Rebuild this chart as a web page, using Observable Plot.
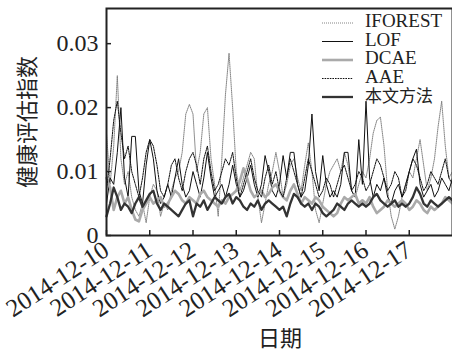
<!DOCTYPE html>
<html><head><meta charset="utf-8">
<script src="https://cdn.jsdelivr.net/npm/d3@7"></script>
<script src="https://cdn.jsdelivr.net/npm/@observablehq/plot@0.6"></script>
<style>
body{margin:0;background:#fff}
#chart{position:relative;width:452px;height:356px}
</style>
</head><body><div id="chart"></div>
<script>
const seriesNames = ["IFOREST", "LOF", "DCAE", "AAE", "本文方法"];
const startDate = "2014-12-10T00:00:00Z";
const stepHours = 2;
const xTickLabels = ["2014-12-10","2014-12-11","2014-12-12","2014-12-13","2014-12-14","2014-12-15","2014-12-16","2014-12-17"];
const yTicks = [0, 0.01, 0.02, 0.03];
const xLabel = "日期";
const yLabel = "健康评估指数";

const iforest = [0.016,0.008,0.014,0.025,0.012,0.008,0.010,0.006,0.004,0.003,0.005,0.002,0.006,0.008,0.007,0.003,0.005,0.004,0.007,0.009,0.010,0.013,0.019,0.0205,0.019,0.010,0.013,0.019,0.020,0.012,0.008,0.003,0.012,0.022,0.0285,0.020,0.010,0.007,0.009,0.011,0.013,0.012,0.006,0.002,0.005,0.008,0.010,0.013,0.010,0.006,0.008,0.011,0.012,0.009,0.007,0.011,0.0145,0.010,0.004,0.002,0.005,0.008,0.010,0.011,0.012,0.010,0.013,0.011,0.007,0.006,0.008,0.010,0.009,0.012,0.016,0.018,0.0185,0.014,0.007,0.003,0.001,0.003,0.006,0.008,0.010,0.009,0.012,0.015,0.011,0.007,0.009,0.012,0.017,0.021,0.014,0.009,0.010];
const lof = [0.005,0.009,0.008,0.013,0.020,0.009,0.006,0.0155,0.0155,0.007,0.005,0.011,0.015,0.012,0.007,0.005,0.006,0.008,0.006,0.009,0.012,0.008,0.006,0.007,0.010,0.008,0.006,0.009,0.013,0.009,0.006,0.007,0.008,0.006,0.008,0.011,0.008,0.006,0.007,0.009,0.011,0.008,0.006,0.008,0.0125,0.010,0.007,0.006,0.008,0.0125,0.009,0.013,0.013,0.008,0.006,0.007,0.011,0.019,0.010,0.007,0.0125,0.008,0.006,0.007,0.006,0.008,0.013,0.013,0.007,0.006,0.015,0.008,0.021,0.009,0.006,0.008,0.007,0.009,0.006,0.005,0.007,0.008,0.006,0.008,0.010,0.012,0.0135,0.008,0.006,0.007,0.008,0.006,0.007,0.009,0.008,0.007,0.009];
const dcae = [0.009,0.0075,0.004,0.006,0.007,0.005,0.006,0.004,0.0025,0.0022,0.004,0.005,0.006,0.005,0.0055,0.006,0.0045,0.005,0.006,0.007,0.0065,0.0055,0.005,0.006,0.0055,0.005,0.0065,0.007,0.006,0.0055,0.005,0.0045,0.0055,0.005,0.006,0.0065,0.007,0.0085,0.0105,0.009,0.007,0.006,0.0065,0.007,0.006,0.0065,0.0075,0.008,0.007,0.006,0.0055,0.007,0.008,0.0065,0.005,0.006,0.0055,0.005,0.006,0.0055,0.0045,0.004,0.0035,0.003,0.0035,0.005,0.006,0.0055,0.006,0.0065,0.005,0.0055,0.005,0.006,0.0045,0.0035,0.004,0.0045,0.0055,0.005,0.0045,0.005,0.0055,0.005,0.004,0.0045,0.0055,0.005,0.004,0.0035,0.0045,0.004,0.0045,0.005,0.006,0.0055,0.005];
const aae = [0.007,0.012,0.018,0.021,0.016,0.012,0.014,0.010,0.008,0.006,0.009,0.013,0.015,0.014,0.011,0.007,0.006,0.008,0.011,0.012,0.009,0.007,0.010,0.012,0.013,0.011,0.008,0.012,0.014,0.010,0.007,0.008,0.010,0.012,0.011,0.013,0.009,0.006,0.008,0.010,0.012,0.009,0.007,0.006,0.009,0.011,0.008,0.010,0.007,0.006,0.009,0.012,0.010,0.008,0.006,0.009,0.012,0.010,0.008,0.006,0.007,0.009,0.008,0.006,0.008,0.010,0.011,0.009,0.007,0.008,0.010,0.009,0.007,0.008,0.010,0.012,0.011,0.009,0.007,0.008,0.010,0.009,0.006,0.007,0.010,0.012,0.011,0.009,0.007,0.008,0.010,0.009,0.008,0.010,0.012,0.009,0.008];
const ours = [0.003,0.005,0.0075,0.006,0.004,0.005,0.0045,0.0035,0.005,0.006,0.0045,0.0055,0.0065,0.007,0.005,0.004,0.005,0.0045,0.004,0.0035,0.003,0.004,0.005,0.0055,0.003,0.005,0.0045,0.0055,0.004,0.005,0.006,0.0055,0.005,0.006,0.0065,0.005,0.006,0.0055,0.0045,0.004,0.005,0.0045,0.0055,0.004,0.005,0.0055,0.005,0.0045,0.004,0.0045,0.003,0.005,0.0065,0.006,0.005,0.0045,0.005,0.004,0.005,0.0045,0.0035,0.003,0.0035,0.004,0.005,0.0045,0.004,0.005,0.0055,0.005,0.0045,0.005,0.0045,0.005,0.006,0.0065,0.0055,0.005,0.0045,0.005,0.0055,0.0045,0.005,0.0045,0.005,0.006,0.0075,0.0065,0.005,0.0045,0.0055,0.005,0.0045,0.005,0.0055,0.006,0.0055];

const seriesValues = [iforest, lof, dcae, aae, ours];
const styles = [
  {stroke: "#777", strokeWidth: 0.9, strokeDasharray: "1,1"},
  {stroke: "#111", strokeWidth: 1},
  {stroke: "#aaa", strokeWidth: 2.6},
  {stroke: "#111", strokeWidth: 1, strokeDasharray: "1.6,1"},
  {stroke: "#333", strokeWidth: 2.3}
];

const t0 = new Date(startDate);
const toDate = i => new Date(t0.getTime() + i * stepHours * 3600e3);
const xTicks = xTickLabels.map(s => new Date(s + "T00:00:00Z"));
const xEnd = new Date("2014-12-18T00:00:00Z");

const marks = seriesValues.map((vals, k) =>
  Plot.line(vals.map((v, i) => ({t: toDate(i), v})), {x: "t", y: "v", ...styles[k], strokeLinejoin: "round"})
);

const serif = "Liberation Serif";
const chart = Plot.plot({
  width: 452, height: 356,
  marginLeft: 106, marginRight: 0, marginTop: 8, marginBottom: 121,
  style: {fontFamily: serif, fontSize: "24px", color: "#222", background: "#fff"},
  x: {type: "utc", domain: [t0, xEnd]},
  y: {domain: [0, 0.0355]},
  marks: [
    ...marks,
    Plot.axisY(yTicks, {tickSize: -5, tickPadding: 13, strokeWidth: 1.5, tickFormat: d => d === 0 ? "0" : d.toFixed(2), label: null, fontSize: 24}),
    Plot.axisX(xTicks, {tickSize: -5, tickPadding: 17, tickRotate: -33, strokeWidth: 1.5, tickFormat: d3.utcFormat("%Y-%m-%d"), label: null, fontSize: 25}),
    Plot.frame({stroke: "#222", strokeWidth: 2})
  ]
});

const svg = d3.select(chart);
svg.append("text").attr("transform", "translate(29,122) rotate(-90)")
  .attr("text-anchor", "middle").attr("dominant-baseline", "middle")
  .style("font-family", "'Noto Sans CJK SC',sans-serif").style("font-size", "22px").attr("fill", "#222").text(yLabel);
svg.append("text").attr("x", 280).attr("y", 340)
  .attr("text-anchor", "middle").attr("dominant-baseline", "middle")
  .style("font-family", "'Noto Sans CJK SC',sans-serif").style("font-size", "22px").attr("fill", "#222").text(xLabel);

const leg = svg.append("g");
seriesNames.forEach((name, k) => {
  const y = 23 + k * 18.5;
  const s = styles[k];
  leg.append("line").attr("x1", 322).attr("x2", 353).attr("y1", y).attr("y2", y)
    .attr("stroke", s.stroke).attr("stroke-width", s.strokeWidth).attr("stroke-dasharray", s.strokeDasharray || null);
  leg.append("text").attr("x", 365).attr("y", y).attr("dominant-baseline", "middle").attr("text-anchor", "start")
    .style("font-family", k === 4 ? "'Noto Sans CJK SC',sans-serif" : serif)
    .style("font-size", k === 4 ? "17px" : "19px").attr("fill", "#222").text(name);
});

document.getElementById("chart").appendChild(chart);
</script></body></html>
